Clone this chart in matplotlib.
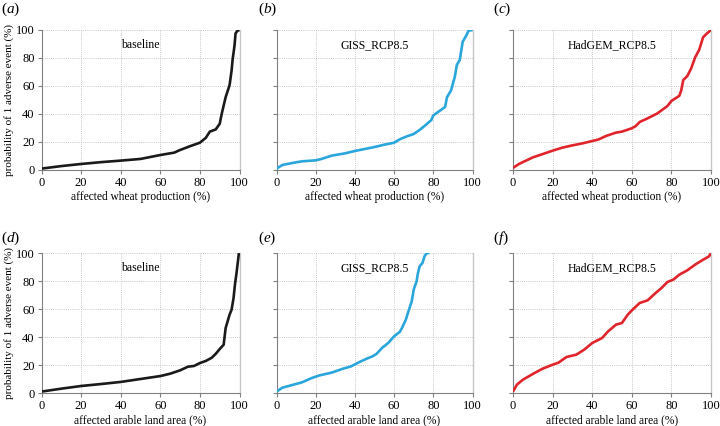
import matplotlib
matplotlib.use("Agg")
import matplotlib.pyplot as plt

plt.rcParams['font.family'] = ['Liberation Serif', 'DejaVu Serif']
plt.rcParams['mathtext.fontset'] = 'custom'
plt.rcParams['mathtext.rm'] = 'Liberation Serif'
plt.rcParams['mathtext.it'] = 'Liberation Serif:italic'

# ---- data ----
a_x = [0, 10, 20, 30, 40, 50, 60, 67, 70, 75, 80, 83, 85, 88, 90, 91, 93, 95, 96, 96.5, 97.5, 98, 99, 100]
a_y = [1, 2.8, 4.3, 5.6, 6.7, 7.9, 10.7, 12.4, 14.3, 17, 19.5, 23, 27.4, 29, 33, 40, 52, 60.7, 71, 78.6, 89, 97.6, 99.5, 100]

b_x = [0, 3, 10, 13, 20, 23, 28, 35, 40, 45, 50, 55, 60, 63, 67, 70, 73, 76, 79, 80, 83, 86, 87, 89, 91, 92, 93.5, 95, 96.5, 98, 100]
b_y = [1, 3.6, 5.5, 6.2, 6.9, 7.9, 10.2, 11.9, 13.6, 15, 16.4, 18.1, 19.5, 22, 24.3, 25.7, 28.6, 32, 35.7, 39, 42, 45, 52, 56.7, 66.7, 75, 78.6, 91.7, 95.2, 99.5, 100]

c_x = [0, 3, 10, 20, 25, 30, 35, 40, 43, 47, 52, 55, 60, 62, 64, 68, 73, 78, 80, 84, 85, 86, 88, 90, 92, 94, 96, 98, 100]
c_y = [1.5, 4.3, 9, 13.8, 16, 17.6, 19, 20.7, 21.7, 24.3, 26.7, 27.4, 29.8, 31.4, 34.3, 36.9, 40.5, 45.7, 49.3, 53, 57, 64.3, 67, 72.6, 80.5, 85.7, 94.8, 97.6, 100]

d_x = [0, 10, 20, 30, 40, 50, 60, 65, 70, 74, 77, 80, 83, 86, 88, 90, 92, 93, 95, 96, 97, 97.7, 98.5, 99.3, 99.7]
d_y = [1, 3.1, 5, 6.4, 7.9, 10, 12.1, 13.8, 16.2, 18.8, 19.3, 21.4, 22.9, 25.2, 28, 31.4, 34.5, 46.4, 56, 59.5, 67.9, 77.4, 85.7, 95.2, 100]

e_x = [0, 3, 8, 13, 18, 22, 28, 34, 38, 42, 46, 49, 51, 54, 57, 60, 63, 64, 66, 67, 69, 70, 71.5, 72, 73, 74.5, 75.5, 76.5, 78]
e_y = [1, 3.8, 5.7, 7.6, 10.7, 12.6, 14.5, 17.4, 19, 21.9, 24.5, 26.2, 27.9, 32.4, 35.7, 40.5, 43.8, 46.4, 52.4, 57, 65.5, 73.8, 79.8, 84.5, 90.5, 92.9, 97.6, 99.8, 100]

f_x = [0, 2, 5, 10, 15, 20, 23, 27, 32, 36, 40, 45, 48, 52, 55, 58, 60, 64, 68, 72, 75, 78, 81, 84, 88, 92, 96, 99, 100]
f_y = [1, 6, 9.5, 13.6, 17.4, 20.2, 21.7, 25.7, 27.4, 31, 35.7, 39.3, 44, 48.8, 50, 56, 59, 64.3, 66.2, 71.4, 75, 79.3, 81, 84.5, 87.6, 91.7, 95.2, 97.6, 100]

panel_letters = ['a', 'b', 'c', 'd', 'e', 'f']
scenario_names = ['baseline', 'GISS_RCP8.5', 'HadGEM_RCP8.5']
row_xlabels = ['affected wheat production (%)', 'affected arable land area (%)']
ylabel_text = 'probability of 1 adverse event (%)'
ticks = [0, 20, 40, 60, 80, 100]

colors = ['#1a1a1a', '#2aa6dc', '#e0242c']
series = [(a_x, a_y), (b_x, b_y), (c_x, c_y), (d_x, d_y), (e_x, e_y), (f_x, f_y)]

W, H = 720, 426
fig = plt.figure(figsize=(W / 100, H / 100), dpi=100)

col_left = [41.5, 276.5, 513.0]
col_width = [198, 196, 198]
row_top = [30, 253]
ax_h = 140

label_pos = [0, 257, 492]
row_label_y = [9, 238]

for r in range(2):
    for c in range(3):
        i = r * 3 + c
        left = col_left[c] / W
        bottom = 1 - (row_top[r] + ax_h) / H
        ax = fig.add_axes([left, bottom, col_width[c] / W, ax_h / H])
        x, y = series[i]
        ax.plot(x, y, color=colors[c], lw=1.9, solid_capstyle='butt', zorder=3)
        ax.set_xlim(0, 100)
        ax.set_ylim(0, 100)
        ax.set_xticks(ticks)
        ax.set_yticks(ticks)
        ax.grid(True, color='#c8c8c8', linestyle=(0, (1, 1.2)), linewidth=0.7, zorder=0)
        ax.spines['top'].set_visible(False)
        ax.spines['left'].set_color('#808080')
        ax.spines['bottom'].set_color('#808080')
        ax.spines['right'].set_color('#c8c8c8')
        ax.spines['right'].set_linewidth(1.0)
        ax.tick_params(direction='out', length=3, width=0.8, color='#808080',
                       labelsize=9, pad=2)
        if c != 0:
            ax.set_yticklabels([])
        else:
            ax.set_ylabel(ylabel_text, fontsize=8, labelpad=1.5)
        ax.set_xlabel(row_xlabels[r], fontsize=8.3, labelpad=1.5)
        ax.text(0.5, 0.89, scenario_names[c], transform=ax.transAxes,
                ha='center', va='center', fontsize=8.5)
        lx = label_pos[c]
        ly = row_label_y[r]
        fig.text((lx + 1) / W, 1 - ly / H,
                 '(' + r'$\mathit{' + panel_letters[i] + '}$' + ')',
                 ha='left', va='center', fontsize=11)

fig.savefig('out.png', dpi=100)
